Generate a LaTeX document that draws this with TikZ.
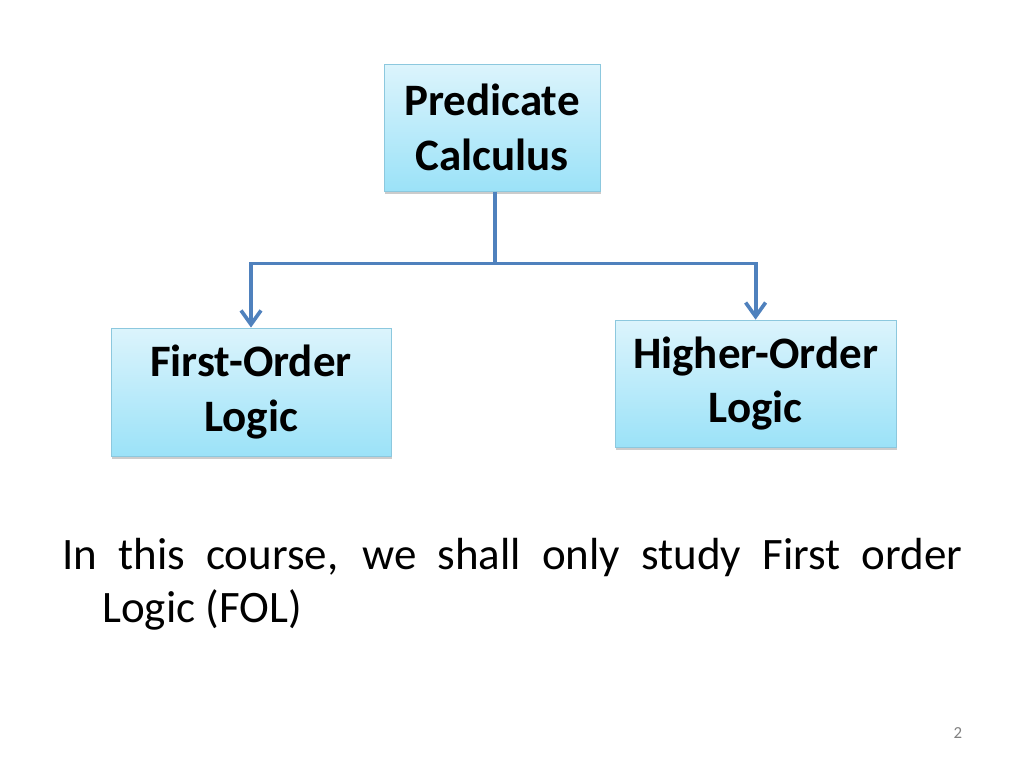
\documentclass[tikz,border=0pt]{standalone}
\usepackage{fontspec}
\setmainfont{Carlito}
\usetikzlibrary{positioning, calc, arrows.meta, shadows}
\definecolor{boxtop}{RGB}{220,244,252}
\definecolor{boxbottom}{RGB}{155,226,248}
\definecolor{boxline}{RGB}{140,200,222}
\definecolor{linkblue}{RGB}{79,129,189}
\tikzset{
  > = {Straight Barb[length = 3.5mm, width = 5mm, line width = 2.6pt]},
  concept/.style = {draw = boxline, line width = 0.6pt, top color = boxtop,
    bottom color = boxbottom, align = center, inner sep = 0pt,
    font = \bfseries\fontsize{32}{39}\selectfont,
    drop shadow = {opacity = 0.4, shadow xshift = 0.8pt, shadow yshift = -2pt}},
  link/.style = {draw = linkblue, line width = 2.8pt},
  prose/.style = {align = left, inner sep = 0pt, font = \fontsize{32}{37}\selectfont}
}
\begin{document}
\begin{tikzpicture}
\useasboundingbox (0,0) rectangle (25.6,-19.2);

%% Concepts
\node [concept, minimum width = 5.4cm, minimum height = 3.175cm] (pc) at (12.3,-3.19) {Predicate\\Calculus};
\node [concept, minimum width = 7cm, minimum height = 3.2cm] (fol) at (6.275,-9.8) {First-Order\\Logic};
\node [concept, minimum width = 7.025cm, minimum height = 3.175cm] (hol) at (18.89,-9.59) {Higher-Order\\Logic};

%% Links
\coordinate (split) at ($(pc.south) + (0.07,-1.8)$);
\draw [link] (split |- pc.south) -- (split);
\draw [link, ->] (split) -| (fol.north);
\draw [link, ->] (split) -| (hol.north);

%% Remark
\node [prose, anchor = base west] (remark) at (1.55,-15.55)
  {\makebox[22.5cm][s]{In this course, we shall only study First order}\\\hspace*{1cm}Logic (FOL)};

%% Page number
\node [text = gray, font = \fontsize{12}{14}\selectfont] (page) at (23.95,-18.33) {2};

\end{tikzpicture}
\end{document}
